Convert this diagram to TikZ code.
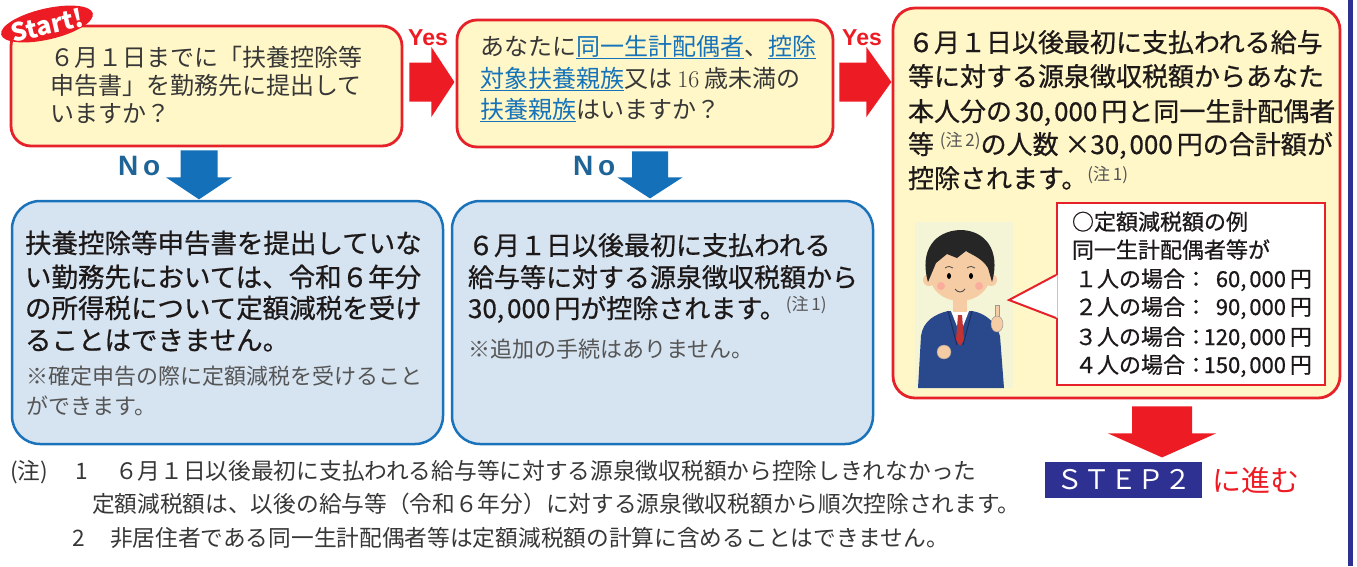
\documentclass[tikz,border=0pt]{standalone}
\usepackage{fontspec}
\newfontfamily\jp{Noto Sans CJK JP}
\newfontfamily\jpm[FakeBold=0.7]{Noto Sans CJK JP}
\newfontfamily\lsans{Liberation Sans}
\usetikzlibrary{shapes.geometric,calc}
\definecolor{framered}{RGB}{230,33,41}
\definecolor{arrowred}{RGB}{237,28,36}
\definecolor{qfill}{RGB}{255,247,200}
\definecolor{framebl}{RGB}{26,115,186}
\definecolor{afill}{RGB}{214,228,242}
\definecolor{arrowbl}{RGB}{19,112,185}
\definecolor{nolabel}{RGB}{30,100,150}
\definecolor{navy}{RGB}{46,49,146}
\definecolor{linkblue}{RGB}{22,115,186}
\definecolor{qgray}{RGB}{55,55,55}
\definecolor{ink}{RGB}{30,25,25}
\definecolor{notegray}{RGB}{85,85,85}
\definecolor{suit}{RGB}{42,72,140}
\definecolor{skin}{RGB}{246,204,165}
\definecolor{picbg}{RGB}{244,244,214}
\newcommand\jpsize[1]{\fontsize{#1}{#1}\selectfont}
\newcommand\lnkjp[1]{\textcolor{linkblue}{\underline{#1}}}
\newcommand\notemk[1]{\raisebox{8pt}{\textcolor{notegray}{\jp\jpsize{17}(注\,#1)}}}
\newcommand\yen[1]{#1\hspace{4pt}円}
\begin{document}
\begin{tikzpicture}[x=1pt,y=-1pt,
  qbox/.style={draw=framered,line width=2.8pt,fill=qfill,rounded corners=20pt,inner sep=0pt},
  abox/.style={draw=framebl,line width=2.5pt,fill=afill,rounded corners=28pt,inner sep=0pt},
  line/.style={anchor=base west,inner sep=0pt,outer sep=0pt},
  qline/.style={line,text=qgray,font=\jp\jpsize{24}},
  bline/.style={line,text=ink,font=\jpm\jpsize{26}},
  aline/.style={line,text=ink,font=\jpm\jpsize{26.5}},
  sline/.style={line,text=notegray,font=\jp\jpsize{22}},
  iline/.style={line,text=ink,font=\jpm\jpsize{22}},
  fline/.style={line,text=qgray,font=\jp\jpsize{22.7}},
  yeslab/.style={anchor=base,inner sep=0pt,text=arrowred,font=\lsans\bfseries\jpsize{23}},
  nolab/.style={line,text=nolabel,font=\lsans\bfseries\jpsize{28}},
  redarrow/.style={fill=arrowred},
  bluearrow/.style={fill=arrowbl}]
\useasboundingbox (0,0) rectangle (1357,566);
% right margin rule
\draw[navy,line width=4.5pt] (1350.5,0) -- (1350.5,566);
% question boxes
\node[qbox,minimum width=391,minimum height=120] (q1) at (206.5,86) {};
\node[qbox,minimum width=376,minimum height=127] (q2) at (645,83.5) {};
\node[qbox,rounded corners=22pt,minimum width=447,minimum height=390] (q3) at (1116.5,203) {};
% answer boxes
\node[abox,minimum width=431,minimum height=243] (a1) at (227.5,322.5) {};
\node[abox,minimum width=421,minimum height=243] (a2) at (662.5,322.5) {};
% start badge
\node[ellipse,fill=arrowred,rotate=13,minimum width=94,minimum height=31,inner sep=0pt] (badge) at (47,24) {};
\node[rotate=13,inner sep=0pt,text=white,font=\jp\bfseries\jpsize{25}] (start) at ([shift={(0,1)}]badge.center) {Start!};
% first question
\node[qline] (q1l1) at (50,66) {６月１日までに「扶養控除等};
\node[qline] (q1l2) at (50,94) {申告書」を勤務先に提出して};
\node[qline] (q1l3) at (50,122) {いますか？};
% second question
\node[qline] (q2l1) at (480,55) {あなたに\lnkjp{同一生計配偶者}、\lnkjp{控除}};
\node[qline] (q2l2) at (480,87) {\lnkjp{対象扶養親族}又は {\rmfamily 16} 歳未満の};
\node[qline] (q2l3) at (480,118) {\lnkjp{扶養親族}はいますか？};
% yes result
\node[bline] (q3l1) at (908,52) {６月１日以後最初に支払われる給与};
\node[bline] (q3l2) at (908,86) {等に対する源泉徴収税額からあなた};
\node[bline] (q3l3) at (908,121) {本人分の\hspace{3pt}\yen{30,\hspace{3pt}000}と同一生計配偶者};
\node[bline] (q3l4) at (908,154) {等 \notemk{2}の人数 ×\yen{30,\hspace{3pt}000}の合計額が};
\node[bline] (q3l5) at (908,188) {控除されます。\notemk{1}};
% illustration
\fill[picbg] (915,222) rectangle (1013,388);
\fill[suit] (918,388) -- (921,336) .. controls (923,321) and (935,314) .. (948,311) -- (972,311)
  .. controls (985,313) and (996,322) .. (1000,336) -- (1004,388) -- cycle;
\fill[white] (951,311) -- (969,311) -- (960,334) -- cycle;
\fill[skin] (953,296) rectangle (967,312);
\fill[red!70!black!80] (958,315) -- (962,315) -- (964,340) -- (960,346) -- (956,340) -- cycle;
\draw[suit!60!black,line width=0.8pt] (948,311) -- (957,345) (972,311) -- (963,345);
\fill[skin] (929,280) circle[radius=6];
\fill[skin] (991,280) circle[radius=6];
\fill[skin] (960,276) ellipse[x radius=30,y radius=25];
\fill[black!85] (928,282) .. controls (919,250) and (935,231) .. (960,230)
  .. controls (985,230) and (1001,250) .. (992,282) -- (988,268)
  .. controls (982,258) and (972,255) .. (966,251) -- (957,258) -- (947,254) -- (936,263) -- cycle;
\fill[black] (949,276) ellipse[x radius=2,y radius=3];
\fill[black] (971,276) ellipse[x radius=2,y radius=3];
\draw[black!70,line width=0.8pt] (945,268) .. controls (948,266) and (951,266) .. (953,268);
\draw[black!70,line width=0.8pt] (967,268) .. controls (970,266) and (973,266) .. (975,268);
\draw[black!70,line width=0.9pt] (955,289) .. controls (958,293) and (962,293) .. (965,289);
\fill[red!40,opacity=0.6] (941,286) circle[radius=4];
\fill[red!40,opacity=0.6] (979,286) circle[radius=4];
\fill[skin,draw=black!40,line width=0.5pt] (944,352) circle[radius=7];
\fill[skin,draw=black!40,line width=0.5pt] (995,305) rectangle (999,318);
\fill[skin,draw=black!40,line width=0.5pt] (997,324) ellipse[x radius=6,y radius=8];
% example box with pointer
\node[draw=framered,line width=2pt,fill=white,minimum width=268,minimum height=182,inner sep=0pt]
  (ex) at (1191,294) {};
\fill[white] ([shift={(1.5,-19)}]ex.west) -- ([shift={(-47,6)}]ex.west) -- ([shift={(1.5,24)}]ex.west) -- cycle;
\draw[framered,line width=2pt] ([shift={(0,-19)}]ex.west) -- ([shift={(-47,6)}]ex.west) -- ([shift={(0,24)}]ex.west);
\node[iline] (ex1) at (1072,230) {○定額減税額の例};
\node[iline] (ex2) at (1072,258) {同一生計配偶者等が};
\node[iline] (r1) at (1075,287) {１人の場合：};
\node[iline,anchor=base east] (r1v) at (1312,287) {\yen{60,\hspace{3pt}000}};
\node[iline] (r2) at (1075,315) {２人の場合：};
\node[iline,anchor=base east] (r2v) at (1312,315) {\yen{90,\hspace{3pt}000}};
\node[iline] (r3) at (1075,345) {３人の場合：};
\node[iline,anchor=base east] (r3v) at (1312,345) {\yen{120,\hspace{3pt}000}};
\node[iline] (r4) at (1075,373) {４人の場合：};
\node[iline,anchor=base east] (r4v) at (1312,373) {\yen{150,\hspace{3pt}000}};
% no results
\node[aline] (a1l1) at (25,253) {扶養控除等申告書を提出していな};
\node[aline] (a1l2) at (25,287) {い勤務先においては、令和６年分};
\node[aline] (a1l3) at (25,318) {の所得税について定額減税を受け};
\node[aline] (a1l4) at (25,350) {ることはできません。};
\node[sline] (a1s1) at (27,384) {※確定申告の際に定額減税を受けること};
\node[sline] (a1s2) at (27,414) {ができます。};
\node[bline] (a2l1) at (468,255) {６月１日以後最初に支払われる};
\node[bline] (a2l2) at (468,287) {給与等に対する源泉徴収税額から};
\node[bline] (a2l3) at (468,318) {\yen{30,\hspace{3pt}000}が控除されます。\notemk{1}};
\node[sline] (a2s1) at (468,357) {※追加の手続はありません。};
% connectors
\path ([shift={(6,-4)}]q1.east) coordinate (y1);
\fill[redarrow] (y1) ++(0,-19.5) -- ++(22,0) -- ++(0,-15.5) -- ++(23,35) -- ++(-23,35) -- ++(0,-15.5) -- ++(-22,0) -- cycle;
\node[yeslab] (yes1) at (428,45) {Yes};
\path ([shift={(5,-1.5)}]q2.east) coordinate (y2);
\fill[redarrow] (y2) ++(0,-19.5) -- ++(27,0) -- ++(0,-15.5) -- ++(25,35) -- ++(-25,35) -- ++(0,-15.5) -- ++(-27,0) -- cycle;
\node[yeslab] (yes2) at (862,45) {Yes};
\path ([shift={(-7.5,3)}]q1.south) coordinate (n1);
\fill[bluearrow] (n1) ++(-18.5,0) -- ++(37,0) -- ++(0,27) -- ++(14.5,0) -- ++(-33,22) -- ++(-33,-22) -- ++(14.5,0) -- cycle;
\node[nolab] (no1) at (118,175) {N\hspace{5pt}o};
\path ([shift={(5,3)}]q2.south) coordinate (n2);
\fill[bluearrow] (n2) ++(-18,0) -- ++(36,0) -- ++(0,26) -- ++(14.5,0) -- ++(-32.5,21) -- ++(-32.5,-21) -- ++(14.5,0) -- cycle;
\node[nolab] (no2) at (573,175) {N\hspace{5pt}o};
\path ([shift={(45.5,7)}]q3.south) coordinate (s2);
\fill[redarrow] (s2) ++(-30,0) -- ++(60,0) -- ++(0,27) -- ++(24,0) -- ++(-54,24) -- ++(-54,-24) -- ++(24,0) -- cycle;
% next step
\node[fill=navy,text=white,minimum width=157,minimum height=36,inner sep=0pt,
      font=\jp\jpsize{27}] (step2) at (1123.5,480) {ＳＴＥＰ２};
\node[line,text=arrowred,font=\jp\jpsize{29}] (go) at (1212,491) {に進む};
% notes
\node[fline] (n0) at (10,479) {(注)};
\node[fline] (n1a) at (75,479) {1};
\node[fline] (n1b) at (115,479) {６月１日以後最初に支払われる給与等に対する源泉徴収税額から控除しきれなかった};
\node[fline] (n1c) at (92,512) {定額減税額は、以後の給与等（令和６年分）に対する源泉徴収税額から順次控除されます。};
\node[fline] (n2a) at (72,546) {2};
\node[fline] (n2b) at (110,546) {非居住者である同一生計配偶者等は定額減税額の計算に含めることはできません。};
\end{tikzpicture}
\end{document}
